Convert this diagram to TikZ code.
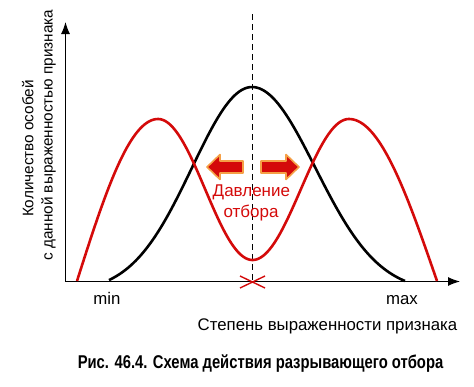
\documentclass[tikz,border=0pt]{standalone}
\usepackage{fontspec}
\setmainfont{Liberation Sans}
\usetikzlibrary{arrows.meta}
\definecolor{cred}{RGB}{212,10,10}
\definecolor{aglow}{RGB}{245,160,70}
\begin{document}
\begin{tikzpicture}[x=1pt,y=-1pt,
  axis/.style={line width=1.1pt,-{Latex[length=12pt,width=9pt]}},
  curveb/.style={line width=2.6pt,black,line join=round},
  curver/.style={line width=2.6pt,cred,line join=round},
  fatarrow/.style={fill=cred,draw=aglow,line width=1.6pt,line join=round},
  lbl/.style={font=\fontsize{16.8}{19}\selectfont,inner sep=0pt,anchor=base},
  ylbl/.style={font=\fontsize{15.3}{18}\selectfont,inner sep=0pt,anchor=base,rotate=90},
  redlbl/.style={font=\fontsize{17}{20}\selectfont,text=cred,inner sep=0pt,anchor=base}]
\useasboundingbox (0,0) rectangle (474,386);
% axes
\coordinate (O) at (65.5,281.5);
\coordinate (ytop) at (65.5,22);
\coordinate (xend) at (460,281.5);
\draw[axis] (O) -- (ytop);
\draw[axis] (O) -- (xend);
% dashed line
\coordinate (dtop) at (252.5,14);
\coordinate (dbot) at (252.5,281.5);
\draw[line width=1.1pt,dash pattern=on 6pt off 4pt] (dtop) -- (dbot);
% black curve
\draw[curveb] plot[domain=-143:0,samples=60] ({252+\x},{281-205*(exp(-((\x/60)^2)/2)-0.0539)})
  -- plot[domain=0:153,samples=60] ({252+\x},{281-205*(exp(-((\x/63.3)^2)/2)-0.0539)});
% red curve
\draw[curver] plot[domain=0:90,samples=40] ({77+81*(\x/90)},{281-162*sin(\x)})
  -- plot[domain=0:180,samples=60] ({158+94.5*(\x/180)},{119+141*(1-cos(\x))/2})
  -- plot[domain=0:180,samples=60] ({252.5+96.5*(\x/180)},{260-141*(1-cos(\x))/2})
  -- plot[domain=90:0,samples=40] ({437-88*(\x/90)},{281-162*sin(\x)});
% X mark
\coordinate (xa) at (240,276);
\coordinate (xb) at (265,288);
\coordinate (xc) at (240,288);
\coordinate (xd) at (265,276);
\draw[cred,line width=1.4pt] (xa) -- (xb) (xc) -- (xd);
% pressure arrows
\draw[fatarrow] (207,167) -- (220,154.5) -- (220,161) -- (243,161) -- (243,173) -- (220,173) -- (220,179.5) -- cycle;
\draw[fatarrow] (299,167) -- (286,154.5) -- (286,161) -- (261,161) -- (261,173) -- (286,173) -- (286,179.5) -- cycle;
\node[redlbl] (p1) at (251.4,196.7) {Давление};
\node[redlbl] (p2) at (251,217.5) {отбора};
% labels
\node[lbl] (mn) at (107,304) {min};
\node[lbl] (mx) at (402,304) {max};
\node[lbl] (xl) at (327.5,330) {Степень выраженности признака};
\node[ylbl] (yl1) at (33.3,148.5) {Количество особей};
\node[ylbl] (yl2) at (52.7,135) {с данной выраженностью признака};
\node[inner sep=0pt,anchor=base] (cap) at (260.5,368) {\scalebox{0.8}[1]{\fontsize{18.5}{21}\selectfont\bfseries Рис. 46.4. Схема действия разрывающего отбора}};
\end{tikzpicture}
\end{document}
